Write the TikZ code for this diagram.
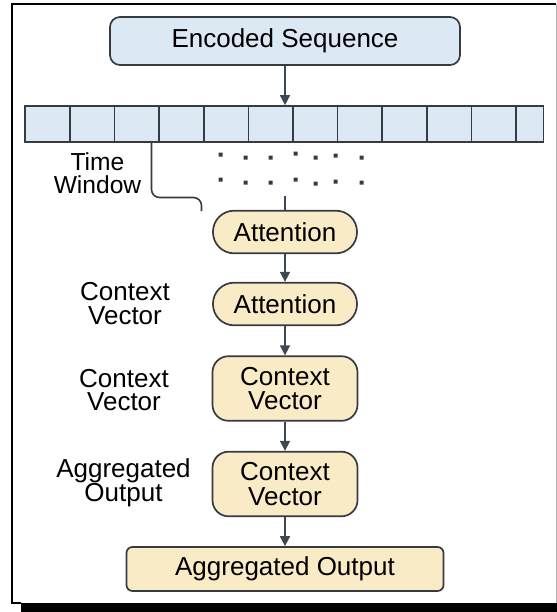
\documentclass[tikz,border=0pt]{standalone}
\usepackage{fontspec}
\setmainfont{Liberation Sans}
\usetikzlibrary{arrows.meta}

\definecolor{seqblue}{HTML}{DCE9F5}
\definecolor{attcream}{HTML}{FAEBC7}
\definecolor{edgegray}{HTML}{363B41}
\definecolor{arrowgray}{HTML}{3E4852}

\tikzset{
	box/.style={draw=edgegray, line width=0.85pt, fill=attcream, inner sep=0pt, align=center, font=\fontsize{13}{12.2}\selectfont},
	pill/.style={box, rounded corners=10.5pt, minimum width=72pt, minimum height=21.3pt},
	ctxbox/.style={box, rounded corners=8pt, minimum width=72.5pt, minimum height=32.3pt},
	lbl/.style={align=center, inner sep=0pt, font=\fontsize{13}{11.8}\selectfont},
	flow/.style={draw=arrowgray, line width=0.8pt, -{Triangle[length=5pt,width=5pt]}},
}

\begin{document}
\begin{tikzpicture}[x=0.5pt,y=-0.5pt]
		\useasboundingbox (0,0) rectangle (557,612);

		% frame and shadow
		\fill[black] (21,603) rectangle (557,612);
		\draw[line width=1pt] (556,4) -- (11.5,4) -- (11.5,603) -- (21,603);
		\draw[gray!60, line width=0.5pt] (556,4) -- (556,603);

		\node[box, fill=seqblue, rounded corners=5pt, minimum width=175pt, minimum height=24pt] (enc) at (285,41) {Encoded Sequence};

		% time steps
		\node[draw=edgegray, line width=0.85pt, fill=seqblue, minimum width=259.25pt, minimum height=18pt, inner sep=0pt] (seq) at (284.25,124) {};
		\draw[edgegray, line width=0.85pt] (70,106) -- (70,142);
		\draw[edgegray, line width=0.85pt] (114.6,106) -- (114.6,142);
		\draw[edgegray, line width=0.85pt] (159.2,106) -- (159.2,142);
		\draw[edgegray, line width=0.85pt] (203.8,106) -- (203.8,142);
		\draw[edgegray, line width=0.85pt] (248.4,106) -- (248.4,142);
		\draw[edgegray, line width=0.85pt] (293,106) -- (293,142);
		\draw[edgegray, line width=0.85pt] (337.6,106) -- (337.6,142);
		\draw[edgegray, line width=0.85pt] (382.2,106) -- (382.2,142);
		\draw[edgegray, line width=0.85pt] (426.8,106) -- (426.8,142);
		\draw[edgegray, line width=0.85pt] (471.4,106) -- (471.4,142);
		\draw[edgegray, line width=0.85pt] (516,106) -- (516,142);

		\draw[flow] (enc.south) -- (enc.south |- seq.north);

		% dots
		\fill[edgegray] (218.5,152.5) rectangle +(4,4) (243.5,155.5) rectangle +(4,4) (268.5,155.5) rectangle +(4,4)
			(293.5,151.5) rectangle +(4,4) (313.5,155.5) rectangle +(4,4) (333.5,153.5) rectangle +(4,4) (359.5,155.5) rectangle +(4,4);
		\fill[edgegray] (218.5,177.5) rectangle +(4,4) (243.5,180.5) rectangle +(4,4) (268.5,180.5) rectangle +(4,4)
			(293.5,177.5) rectangle +(4,4) (313.5,181.5) rectangle +(4,4) (333.5,179.5) rectangle +(4,4) (359.5,180.5) rectangle +(4,4);

		% time window
		\node[lbl, font=\fontsize{12.3}{11.7}\selectfont] (lwin) at (97.5,173) {Time\\Window};
		\coordinate (winend) at (201.5,211);
		\draw[edgegray, line width=0.8pt, rounded corners=4pt] (151.5,142) -- (151.5,197.5) -- (201.5,197.5) -- (winend);

		% stack
		\coordinate (attin) at (285,196);
		\node[pill] (att1) at (285,232) {Attention};
		\node[pill] (att2) at (285,304) {Attention};
		\node[ctxbox] (ctx1) at (285,388.5) {Context\\Vector};
		\node[ctxbox] (ctx2) at (285,484) {Context\\Vector};
		\node[box, rounded corners=3pt, minimum width=158.5pt, minimum height=22pt] (agg) at (285,569) {Aggregated Output};

		\draw[arrowgray, line width=0.8pt] (attin) -- (att1.north);
		\draw[flow] (att1) -- (att2);
		\draw[flow] (att2) -- (ctx1);
		\draw[flow] (ctx1) -- (ctx2);
		\draw[flow] (ctx2) -- (agg);

		% side labels
		\node[lbl] (lctx1) at (125,303.5) {Context\\Vector};
		\node[lbl] (lctx2) at (124,390) {Context\\Vector};
		\node[lbl] (lagg) at (123.5,483) {Aggregated\\Output};
	\end{tikzpicture}
\end{document}
